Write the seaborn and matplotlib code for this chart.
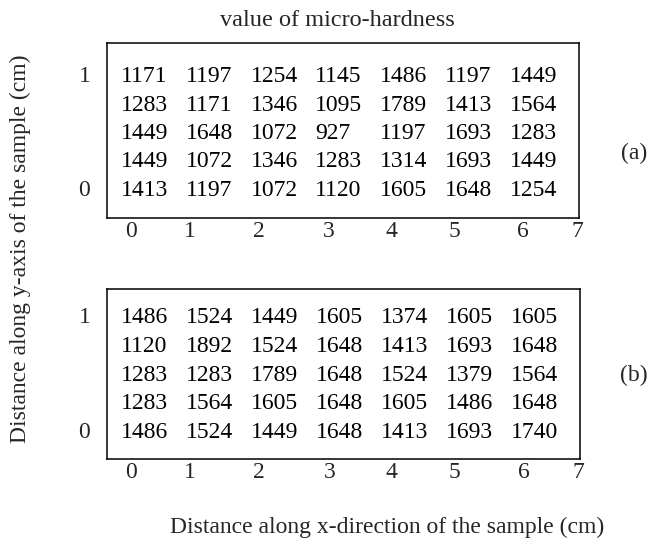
import numpy as np
import pandas as pd
import matplotlib
matplotlib.use('Agg')
import matplotlib.pyplot as plt
from matplotlib.colors import ListedColormap
import seaborn as sns

sns.set_style("white")
plt.rcParams['font.family'] = ['Liberation Serif', 'DejaVu Serif']

# micro-hardness values, top row = y 1, bottom row = y 0
hard_a = [
    [1171, 1197, 1254, 1145, 1486, 1197, 1449],
    [1283, 1171, 1346, 1095, 1789, 1413, 1564],
    [1449, 1648, 1072, 927, 1197, 1693, 1283],
    [1449, 1072, 1346, 1283, 1314, 1693, 1449],
    [1413, 1197, 1072, 1120, 1605, 1648, 1254],
]
hard_b = [
    [1486, 1524, 1449, 1605, 1374, 1605, 1605],
    [1120, 1892, 1524, 1648, 1413, 1693, 1648],
    [1283, 1283, 1789, 1648, 1524, 1379, 1564],
    [1283, 1564, 1605, 1648, 1605, 1486, 1648],
    [1486, 1524, 1449, 1648, 1413, 1693, 1740],
]
x_labels = ['0', '1', '2', '3', '4', '5', '6', '7']
y_labels = ['1', '0']
panel_tags = ['(a)', '(b)']

# label positions as drawn in the original figure
x_tick_pos = [0.65, 1.56, 2.63, 3.71, 4.67, 5.64, 6.70, 7.55]
y_tick_pos = [0.5, 4.5]

fig = plt.figure(figsize=(6.54, 5.41), dpi=100)
ax_a = fig.add_axes([0.1636, 0.597, 0.7217, 0.3235])
ax_b = fig.add_axes([0.1636, 0.1516, 0.7232, 0.3142])

white = ListedColormap(['white'])
ylims = [(5.49, -0.70), (5.40, -0.47)]

for ax, data, ylim in zip([ax_a, ax_b], [hard_a, hard_b], ylims):
    df = pd.DataFrame(data)
    sns.heatmap(df, annot=True, fmt='d', cmap=white, cbar=False, ax=ax,
                annot_kws=dict(fontsize=17, ha='left', color='black'))
    ax.set_xlim(0.284, 7.568)
    ax.set_ylim(*ylim)
    ax.set_xticks(x_tick_pos)
    ax.set_xticklabels(x_labels, fontsize=17, rotation=0)
    ax.set_yticks(y_tick_pos)
    ax.set_yticklabels(y_labels, fontsize=17, rotation=0)
    ax.tick_params(axis='x', length=0, pad=2)
    ax.tick_params(axis='y', length=0, pad=12)
    ax.set_xlabel('')
    ax.set_ylabel('')
    for s in ax.spines.values():
        s.set_visible(True)
        s.set_color('black')
        s.set_linewidth(1.1)

fig.text(337 / 654, 1 - 20 / 541, 'value of micro-hardness', fontsize=17.5,
         ha='center', va='center')
fig.text(20 / 654, 1 - 249 / 541, 'Distance along y-axis of the sample (cm)',
         fontsize=17, rotation=90, ha='center', va='center')
fig.text(387 / 654, 1 - 527 / 541, 'Distance along x-direction of the sample (cm)',
         fontsize=17, ha='center', va='center')
fig.text(634 / 654, 1 - 153 / 541, panel_tags[0], fontsize=17, ha='center', va='center')
fig.text(634 / 654, 1 - 375 / 541, panel_tags[1], fontsize=17, ha='center', va='center')

fig.savefig('out.png', dpi=100)
